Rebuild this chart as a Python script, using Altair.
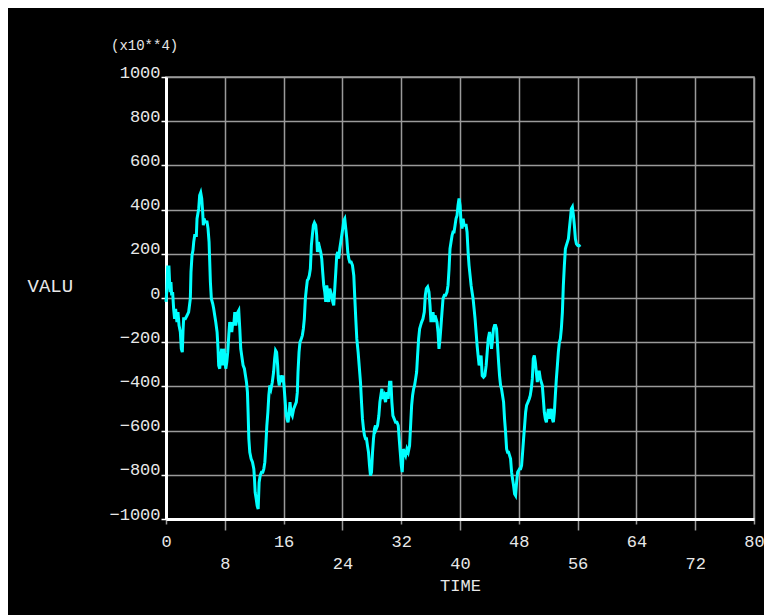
import altair as alt
import pandas as pd

# ---- data (values in units of 10**4) ----
time_a = [0.0, 0.13, 0.22, 0.40, 0.49, 0.58, 0.67, 0.77, 0.90, 1.04,
          1.17, 1.31, 1.49, 1.63, 1.77, 1.95, 2.08, 2.22, 2.31, 2.40,
          2.63, 2.86, 3.08, 3.31, 3.40, 3.54, 3.67, 3.77, 3.90, 4.13,
          4.22, 4.45, 4.58, 4.72, 4.86, 4.99, 5.08, 5.17, 5.36, 5.58,
          5.72, 5.86, 5.95, 6.04, 6.17, 6.36, 6.49, 6.63, 6.77, 6.95,
          7.08, 7.17, 7.31, 7.45, 7.58, 7.72, 7.86, 7.99, 8.13, 8.27,
          8.40, 8.54, 8.67, 8.81, 8.95, 9.08, 9.22, 9.36, 9.49, 9.63,
          9.77, 9.90, 10.04, 10.17, 10.36, 10.49, 10.67, 10.81, 10.95, 11.08,
          11.17, 11.27, 11.40, 11.58, 11.77, 11.95, 12.04, 12.13, 12.27, 12.40,
          12.54, 12.67, 12.81, 12.99, 13.17, 13.31, 13.45, 13.58, 13.72, 13.86,
          13.99, 14.13]
value_a = [-18, 42, 140, 140, 72, 27, 72, 12, 27, -49,
           -94, -49, -109, -64, -124, -154, -230, -245, -154, -94,
           -94, -79, -64, -3, 117, 193, 216, 253, 283, 283,
           359, 404, 465, 477, 450, 389, 329, 359, 344, 344,
           314, 253, 163, 72, -3, -26, -49, -79, -109, -154,
           -230, -305, -320, -260, -230, -305, -230, -260, -320, -290,
           -245, -169, -109, -124, -154, -109, -124, -64, -124, -94,
           -64, -56, -139, -230, -275, -305, -320, -351, -381, -426,
           -517, -637, -698, -728, -743, -773, -819, -879, -909, -940,
           -955, -834, -804, -788, -788, -773, -743, -668, -577, -517,
           -441, -396]

time_b = [14.28, 14.46, 14.64, 14.78, 14.91, 15.05, 15.19, 15.28, 15.41, 15.55,
          15.73, 15.91, 16.05, 16.19, 16.32, 16.46, 16.60, 16.73, 16.87, 17.00,
          17.19, 17.37, 17.55, 17.73, 17.87, 17.96, 18.10, 18.23, 18.41, 18.55,
          18.69, 18.82, 18.96, 19.10, 19.23, 19.37, 19.50, 19.64, 19.78, 19.91,
          20.05, 20.19, 20.37, 20.50, 20.60, 20.73, 20.87, 21.05, 21.19, 21.32,
          21.46, 21.60, 21.73, 21.87, 22.00, 22.14, 22.28, 22.41, 22.55, 22.69,
          22.82, 22.96, 23.10, 23.23, 23.37, 23.50, 23.64, 23.78, 23.91, 24.05,
          24.19, 24.32, 24.46, 24.60, 24.73, 24.87, 25.00, 25.19, 25.37, 25.55,
          25.69, 25.82, 25.96, 26.14, 26.28, 26.46, 26.60, 26.73, 26.87, 27.00,
          27.14, 27.28, 27.41, 27.55, 27.69, 27.82, 27.96, 28.10, 28.23, 28.37,
          28.50]
value_b = [-411, -381, -335, -275, -237, -245, -305, -366, -396, -351,
           -366, -351, -396, -456, -517, -547, -562, -532, -471, -517,
           -532, -502, -486, -471, -426, -335, -245, -200, -185, -169,
           -139, -94, -3, 42, 80, 87, 102, 132, 238, 283,
           329, 341, 329, 283, 208, 253, 231, 208, 178, 117,
           57, 27, -18, 57, 27, -18, 42, 27, 12, -18,
           -33, 42, 117, 193, 208, 178, 223, 253, 283, 314,
           351, 359, 314, 268, 208, 178, 163, 163, 148, 102,
           -3, -94, -185, -245, -305, -381, -471, -547, -592, -622,
           -637, -637, -668, -698, -758, -804, -788, -698, -637, -592,
           -577]

time_c = [28.60, 28.78, 28.96, 29.10, 29.23, 29.37, 29.51, 29.69, 29.87, 30.05,
          30.23, 30.42, 30.60, 30.73, 30.87, 31.05, 31.23, 31.42, 31.60, 31.73,
          31.87, 32.01, 32.14, 32.28, 32.42, 32.60, 32.78, 32.96, 33.14, 33.28,
          33.42, 33.55, 33.69, 33.82, 33.96, 34.10, 34.23, 34.37, 34.51, 34.64,
          34.78, 34.96, 35.14, 35.28, 35.42, 35.60, 35.78, 35.92, 36.05, 36.19,
          36.33, 36.46, 36.60, 36.73, 36.87, 37.01, 37.14, 37.28, 37.42, 37.55,
          37.69, 37.87, 38.05, 38.23, 38.37, 38.51, 38.64, 38.78, 38.92, 39.05,
          39.19, 39.33, 39.46, 39.60, 39.73, 39.87, 40.01, 40.14, 40.28, 40.42,
          40.55, 40.69, 40.83, 40.96, 41.10, 41.23, 41.37, 41.51, 41.64, 41.78,
          41.92, 42.05, 42.19, 42.33, 42.46, 42.60, 42.73, 42.87]
value_c = [-592, -577, -532, -471, -441, -411, -456, -441, -471, -426,
           -456, -381, -381, -471, -532, -547, -562, -562, -577, -637,
           -698, -758, -788, -683, -698, -713, -683, -698, -668, -577,
           -486, -441, -411, -396, -366, -335, -260, -185, -139, -124,
           -109, -94, -64, 12, 42, 50, 27, -33, -109, -79,
           -64, -109, -79, -94, -109, -154, -230, -185, -124, -64,
           -3, 12, 12, 27, 57, 132, 223, 253, 283, 299,
           299, 329, 359, 374, 419, 450, 419, 344, 314, 359,
           329, 329, 329, 299, 208, 148, 102, 57, 27, -3,
           -49, -94, -154, -215, -260, -305, -290, -260]

time_d = [43.02, 43.20, 43.38, 43.56, 43.70, 43.84, 44.02, 44.15, 44.29, 44.43,
          44.56, 44.70, 44.84, 44.97, 45.11, 45.25, 45.38, 45.52, 45.65, 45.79,
          45.93, 46.06, 46.20, 46.34, 46.47, 46.61, 46.75, 46.88, 47.02, 47.15,
          47.29, 47.43, 47.56, 47.70, 47.84, 47.97, 48.11, 48.25, 48.38, 48.52,
          48.65, 48.79, 48.93, 49.06, 49.25, 49.43, 49.56, 49.70, 49.84, 49.97,
          50.11, 50.25, 50.38, 50.52, 50.65, 50.79, 50.93, 51.06, 51.20, 51.34,
          51.47, 51.61, 51.75, 51.88, 52.02, 52.15, 52.29, 52.43, 52.56, 52.70,
          52.84, 52.97, 53.11, 53.25, 53.38, 53.52, 53.65, 53.79, 53.93, 54.06,
          54.20, 54.34, 54.47, 54.61, 54.75, 54.88, 55.02, 55.15, 55.29, 55.43,
          55.56, 55.70, 55.84, 56.02, 56.20, 56.34]
value_d = [-351, -358, -351, -305, -245, -185, -154, -185, -230, -185,
           -139, -124, -124, -139, -215, -290, -351, -396, -411, -441,
           -471, -547, -607, -683, -698, -698, -713, -728, -788, -819,
           -849, -887, -894, -834, -788, -781, -773, -773, -758, -698,
           -637, -577, -517, -486, -471, -456, -441, -411, -366, -275,
           -260, -290, -335, -381, -335, -335, -366, -381, -396, -456,
           -517, -547, -562, -532, -502, -547, -517, -502, -547, -562,
           -517, -441, -366, -305, -245, -200, -185, -139, -64, 57,
           148, 223, 238, 253, 268, 314, 359, 404, 412, 374,
           329, 268, 245, 238, 238, 231]

x_ticks = [0, 8, 16, 24, 32, 40, 48, 56, 64, 72, 80]
y_ticks = [-1000, -800, -600, -400, -200, 0, 200, 400, 600, 800, 1000]

df = pd.DataFrame({
    "TIME": time_a + time_b + time_c + time_d,
    "VALU": value_a + value_b + value_c + value_d,
})

FONT = "Liberation Mono"
TXT = "#e8e8e8"
GRID = "#9a9a9a"

chart = alt.Chart(df).mark_line(color="#00ffff", strokeWidth=3).encode(
    x=alt.X(
        "TIME:Q",
        scale=alt.Scale(domain=[0, 80], nice=False, zero=False),
        axis=alt.Axis(
            values=x_ticks, title="TIME", format="d",
            grid=True, gridColor=GRID, gridWidth=1.5,
            domainColor="white", domainWidth=3,
            ticks=True, tickColor=GRID, tickWidth=1.5,
            tickSize={"condition": {"test": "datum.value % 16 === 0", "value": 5}, "value": 11},
            labelPadding={"condition": {"test": "datum.value % 16 === 0", "value": 9}, "value": 25},
            labelBaseline="top", labelAlign="center",
            labelFont=FONT, labelFontSize=17, labelColor=TXT,
            labelOverlap=False, labelFlush=False,
            titleFont=FONT, titleFontSize=17, titleFontWeight="normal",
            titleColor=TXT, titlePadding=6,
        ),
    ),
    y=alt.Y(
        "VALU:Q",
        scale=alt.Scale(domain=[-1000, 1000], nice=False, zero=False),
        axis=alt.Axis(
            values=y_ticks, format="d", title="VALU",
            grid=True, gridColor=GRID, gridWidth=1.5,
            domainColor="white", domainWidth=3,
            ticks=True, tickColor="white", tickWidth=1.5, tickSize=5,
            labelPadding=1, labelBaseline="alphabetic", labelAlign="right",
            labelFont=FONT, labelFontSize=17, labelColor=TXT,
            labelOverlap=False, labelFlush=False,
            titleFont=FONT, titleFontSize=19, titleFontWeight="normal",
            titleColor=TXT, titleAngle=0, titleAlign="left",
            titleBaseline="middle", titleX=-139, titleY=208,
        ),
    ),
).properties(
    width=588,
    height=442,
    title=alt.TitleParams(
        "(x10**4)", anchor="start", frame="group", dx=-55, offset=10,
        font=FONT, fontSize=14, fontWeight="normal", color=TXT,
    ),
    autosize=alt.AutoSizeParams(type="none"),
    padding={"left": 158, "top": 69, "right": 10, "bottom": 96},
    background="black",
).configure_view(
    stroke=GRID, strokeWidth=1.5, fill="black",
)

chart.save("out.html", embed_options={"renderer": "svg", "actions": False})
